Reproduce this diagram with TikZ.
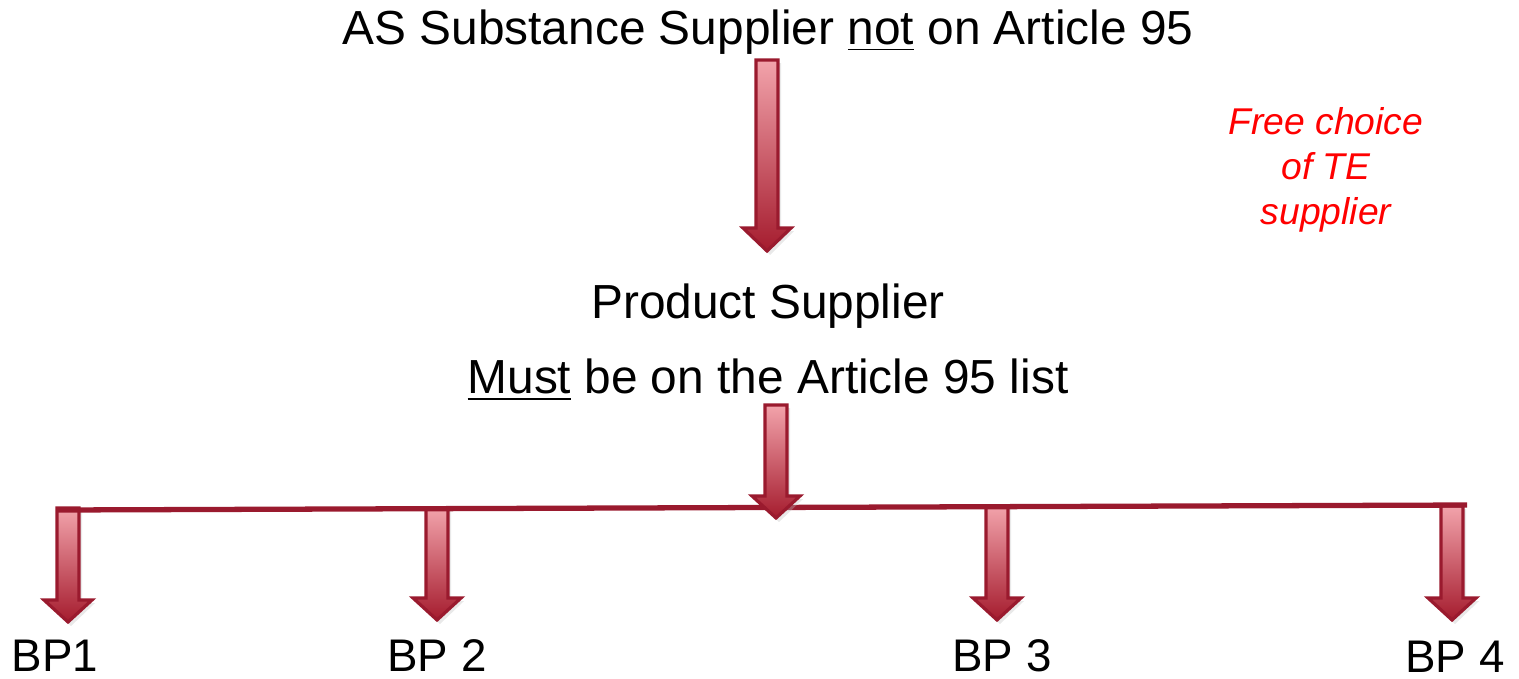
\documentclass[tikz,border=0pt]{standalone}
\usepackage{fontspec}
\setmainfont{Liberation Sans}
\definecolor{arrowdark}{HTML}{A51C2E}
\definecolor{arrowlight}{HTML}{F2A3AB}
\definecolor{arrowedge}{HTML}{9A1A2E}
\definecolor{freered}{HTML}{FF0000}
\newcommand{\blockarrowdraw}[4]{% x, top, headbase, tip
  \fill[black!25,opacity=0.35] (#1-11+3,#2+3) -- (#1+11+3,#2+3) -- (#1+11+3,#3+3) -- (#1+24+3,#3+3) -- (#1+3,#4+4) -- (#1-24+3,#3+3) -- (#1-11+3,#3+3) -- cycle;
  \draw[arrowedge,line width=0.9pt,top color=arrowlight,bottom color=arrowdark,shading angle=0]
    (#1-11,#2) -- (#1+11,#2) -- (#1+11,#3) -- (#1+24,#3) -- (#1,#4) -- (#1-24,#3) -- (#1-11,#3) -- cycle;
}
\tikzset{
  maintext/.style={font=\fontsize{13.6}{16}\selectfont, inner sep=0pt, anchor=center},
  bptext/.style={font=\fontsize{13}{15}\selectfont, inner sep=0pt, anchor=center},
  notetext/.style={font=\fontsize{10.6}{12.8}\selectfont\itshape, text=freered, align=center, inner sep=0pt},
  busline/.style={draw=arrowedge, line width=1.5pt}
}
\begin{document}
\begin{tikzpicture}[x=0.01cm,y=-0.01cm]
\useasboundingbox (0,0) rectangle (1519,678);
\node[maintext] (top) at (768,32) {AS Substance Supplier \underline{not} on Article 95};
\node[maintext] (prod) at (768,306) {Product Supplier};
\node[maintext] (must) at (768,380) {\underline{Must} be on the Article 95 list};
\node[notetext] (note) at (1326,170) {Free choice\\of TE\\supplier};
\node[bptext] (bp1) at (55,656) {BP1};
\node[bptext] (bp2) at (437,656) {BP 2};
\node[bptext] (bp3) at (1002,656) {BP 3};
\node[bptext] (bp4) at (1455,657) {BP 4};
% main arrow
\blockarrowdraw{767}{60}{228}{251}
% branch arrows
\blockarrowdraw{68}{508}{600}{622}
\blockarrowdraw{437}{508}{598}{620}
\blockarrowdraw{997}{506}{598}{620}
\blockarrowdraw{1452}{506}{598}{620}
% bus line
\coordinate (busL) at (57,510);
\coordinate (busR) at (1467,505);
\draw[busline] (busL) -- (busR);
% arrow from product supplier
\blockarrowdraw{776}{405}{496}{518}
\end{tikzpicture}
\end{document}
